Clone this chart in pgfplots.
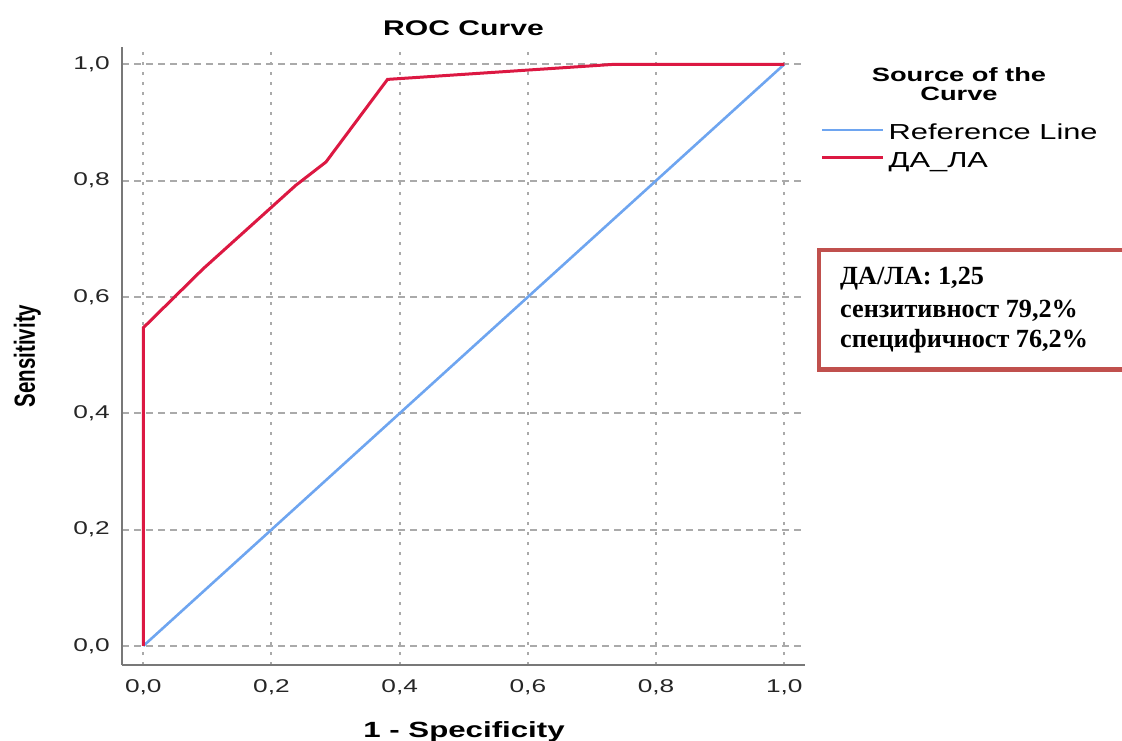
\documentclass[border=0pt]{standalone}
\usepackage{pgfplots}
\pgfplotsset{compat=1.18}
\usepackage{fontspec}
\setmainfont{Liberation Sans}
\newfontfamily\tnr{Liberation Serif}
\usepackage{graphicx}
\newcommand{\sx}[1]{\scalebox{1.42}[1]{#1}}
\definecolor{rocred}{RGB}{220,24,66}
\definecolor{refblue}{RGB}{110,165,240}
\definecolor{boxred}{RGB}{192,80,77}
\definecolor{gridgray}{RGB}{170,170,170}
\definecolor{axgray}{RGB}{120,120,120}
\begin{document}
\begin{tikzpicture}[x=1pt,y=1pt]
\useasboundingbox (0pt,0pt) rectangle (1122pt,740pt);
\begin{axis}[
  at={(122pt,75pt)}, anchor=south west,
  scale only axis, width=683pt, height=618pt,
  xmin=-0.0332, xmax=1.0323, ymin=-0.0327, ymax=1.0297,
  axis x line*=bottom, axis y line*=left,
  axis line style={axgray, line width=2.6pt, -},
  major tick length=0pt,
  xtick={0,0.2,0.4,0.6,0.8,1.0},
  ytick={0,0.2,0.4,0.6,0.8,1.0},
  xticklabels={{\sx{0,0}},{\sx{0,2}},{\sx{0,4}},{\sx{0,6}},{\sx{0,8}},{\sx{1,0}}},
  yticklabels={{\sx{0,0}},{\sx{0,2}},{\sx{0,4}},{\sx{0,6}},{\sx{0,8}},{\sx{1,0}}},
  ticklabel style={font=\fontsize{18.5}{20}\selectfont, inner sep=0pt, text=black!85},
  xticklabel style={yshift=-14pt},
  yticklabel style={xshift=-12pt},
  xmajorgrids, ymajorgrids,
  x grid style={gridgray, line width=2pt, dash pattern=on 3pt off 7pt},
  y grid style={gridgray, line width=2pt, dash pattern=on 7pt off 5pt},
  legend style={at={(1.023,0.874)}, anchor=north west, draw=none, fill=none,
    inner sep=0pt, outer sep=0pt, row sep=8pt,
    font=\fontsize{21.7}{23}\selectfont,
    nodes={inner ysep=0pt, inner xsep=4pt, text height=15pt, text depth=5pt},
    cells={anchor=west}},
  legend image code/.code={\draw[#1] (0pt,5pt) -- (61pt,5pt);},
]
\addplot[refblue, line width=2.6pt] coordinates {(0,0) (1,1)};
\addlegendentry{\sx{Reference Line}}
\addplot[rocred, line width=3pt] coordinates {
  (0,0) (0,0.547) (0.093,0.648) (0.238,0.792) (0.285,0.832)
  (0.381,0.974) (0.736,1.0) (1,1)};
\addlegendentry{\sx{ДА\_ЛА}}
\end{axis}
\node[anchor=base, inner sep=0pt, font=\bfseries\fontsize{21.2}{24}\selectfont] at (463.5pt,704.7pt) {\sx{ROC Curve}};
\node[anchor=base, inner sep=0pt, font=\bfseries\fontsize{22}{24}\selectfont] at (464pt,3pt) {\sx{1 - Specificity}};
\node[anchor=base, rotate=90, inner sep=0pt, font=\bfseries\fontsize{20.5}{24}\selectfont] at (35pt,384pt) {\scalebox{1}[1.42]{Sensitivity}};
\node[anchor=base, inner sep=0pt, font=\bfseries\fontsize{19.2}{20}\selectfont] at (959pt,658pt) {\sx{Source of the}};
\node[anchor=base, inner sep=0pt, font=\bfseries\fontsize{19.2}{20}\selectfont] at (959pt,639.5pt) {\sx{Curve}};
\draw[boxred, line width=4.5pt] (819pt,490pt) rectangle (1135pt,370.5pt);
\node[anchor=base west, inner sep=0pt, font=\tnr\bfseries\fontsize{26.2}{30}\selectfont] at (840pt,455pt) {ДА/ЛА: 1,25};
\node[anchor=base west, inner sep=0pt, font=\tnr\bfseries\fontsize{26.2}{30}\selectfont] at (840pt,422.5pt) {сензитивност 79,2\%};
\node[anchor=base west, inner sep=0pt, font=\tnr\bfseries\fontsize{26.2}{30}\selectfont] at (840pt,392.5pt) {специфичност 76,2\%};
\end{tikzpicture}
\end{document}
